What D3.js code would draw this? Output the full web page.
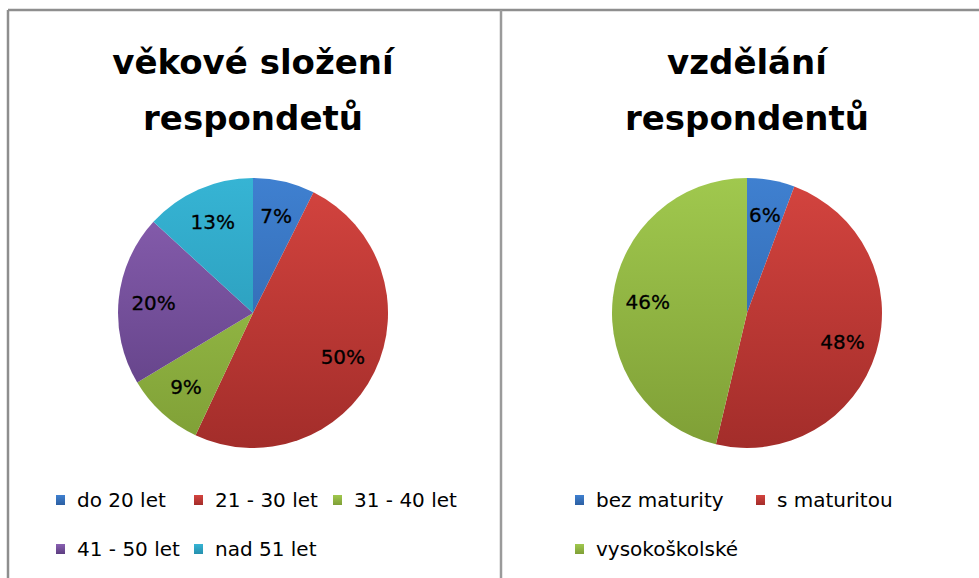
<!DOCTYPE html>
<html>
<head>
<meta charset="utf-8">
<script src="https://cdn.jsdelivr.net/npm/d3@7"></script>
<style>
  body { margin: 0; background: #fff; }
  svg { display: block; }
</style>
</head>
<body>
<script>
// data
var ageTitle = ["věkové složení", "respondetů"];
var ageCats = ["do 20 let", "21 - 30 let", "31 - 40 let", "41 - 50 let", "nad 51 let"];
var ageVals = [7.4, 49.6, 9.4, 20.4, 13.2];

var eduTitle = ["vzdělání", "respondentů"];
var eduCats = ["bez maturity", "s maturitou", "vysokoškolské"];
var eduVals = [5.7, 48.0, 46.3];

// light (top) / dark (bottom) shades for the gradient fill
var shadesTop = ["#3f80d0", "#d4443f", "#a0c84e", "#8a60b2", "#36b4d4"];
var shadesBot = ["#2c5fa2", "#a32d2a", "#7f9f36", "#5c3d80", "#2690ae"];

var W = 979, H = 578;

var svg = d3.select("body").append("svg")
  .attr("width", W)
  .attr("height", H);

var defs = svg.append("defs");

// frame lines
svg.append("line").attr("x1", 8).attr("x2", W).attr("y1", 10).attr("y2", 10)
  .attr("stroke", "#8e8e8e").attr("stroke-width", 2.5);
svg.append("line").attr("x1", 8).attr("x2", 8).attr("y1", 10).attr("y2", H)
  .attr("stroke", "#8e8e8e").attr("stroke-width", 2.5);
svg.append("line").attr("x1", 501).attr("x2", 501).attr("y1", 10).attr("y2", H)
  .attr("stroke", "#9a9a9a").attr("stroke-width", 2.5);

function drawPanel(id, cx, title, cats, vals, legendCols) {
  var cy = 313, r = 135;
  var g = svg.append("g");

  // title, two lines
  g.append("text")
    .attr("x", cx).attr("y", 74)
    .attr("text-anchor", "middle")
    .style("font-family", "DejaVu Sans")
    .style("font-weight", "bold")
    .style("font-size", "34px")
    .selectAll("tspan")
    .data(title)
    .enter().append("tspan")
      .attr("x", cx)
      .attr("dy", function(d, i) { return i == 0 ? 0 : 56; })
      .text(function(d) { return d; });

  // one vertical gradient per colour, for slices (pie coords) and legend boxes
  cats.forEach(function(c, i) {
    var sg = defs.append("linearGradient")
      .attr("id", id + "-grad-" + i)
      .attr("gradientUnits", "userSpaceOnUse")
      .attr("x1", 0).attr("x2", 0)
      .attr("y1", -r).attr("y2", r);
    sg.append("stop").attr("offset", "0%").attr("stop-color", shadesTop[i]);
    sg.append("stop").attr("offset", "100%").attr("stop-color", shadesBot[i]);

    var lgr = defs.append("linearGradient")
      .attr("id", id + "-leg-" + i)
      .attr("x1", 0).attr("x2", 0).attr("y1", 0).attr("y2", 1);
    lgr.append("stop").attr("offset", "0%").attr("stop-color", shadesTop[i]);
    lgr.append("stop").attr("offset", "100%").attr("stop-color", shadesBot[i]);
  });

  var total = d3.sum(vals);
  var pie = d3.pie().sort(null).value(function(d) { return d; });
  var arcs = pie(vals);
  var arc = d3.arc().innerRadius(0).outerRadius(r);
  var labelArc = d3.arc().innerRadius(r * 0.74).outerRadius(r * 0.74);

  var pg = g.append("g").attr("transform", "translate(" + cx + "," + cy + ")");

  pg.selectAll("path")
    .data(arcs)
    .enter().append("path")
      .attr("d", arc)
      .attr("fill", function(d, i) { return "url(#" + id + "-grad-" + i + ")"; });

  pg.selectAll("text")
    .data(arcs)
    .enter().append("text")
      .attr("transform", function(d) { return "translate(" + labelArc.centroid(d) + ")"; })
      .attr("text-anchor", "middle")
      .attr("dy", "0.36em")
      .style("font-family", "DejaVu Sans")
      .style("font-size", "20px")
      .attr("fill", "#000")
      .attr("stroke", "#000")
      .attr("stroke-width", 0.3)
      .text(function(d) { return Math.round(d.value / total * 100) + "%"; });

  // legend
  var lg = g.selectAll("g.leg")
    .data(cats)
    .enter().append("g")
      .attr("class", "leg")
      .attr("transform", function(d, i) {
        var col = i % legendCols.length, row = Math.floor(i / legendCols.length);
        return "translate(" + legendCols[col] + "," + (500 + row * 49) + ")";
      });
  lg.append("rect")
    .attr("x", 0).attr("y", -5)
    .attr("width", 9).attr("height", 10)
    .attr("fill", function(d, i) { return "url(#" + id + "-leg-" + i + ")"; });
  lg.append("text")
    .attr("x", 21).attr("y", 0)
    .attr("dy", "0.36em")
    .style("font-family", "DejaVu Sans")
    .style("font-size", "20px")
    .attr("fill", "#000")
    .text(function(d) { return d; });
}

drawPanel("age", 253, ageTitle, ageCats, ageVals, [56, 194, 333]);
drawPanel("edu", 747, eduTitle, eduCats, eduVals, [575, 756]);
</script>
</body>
</html>
